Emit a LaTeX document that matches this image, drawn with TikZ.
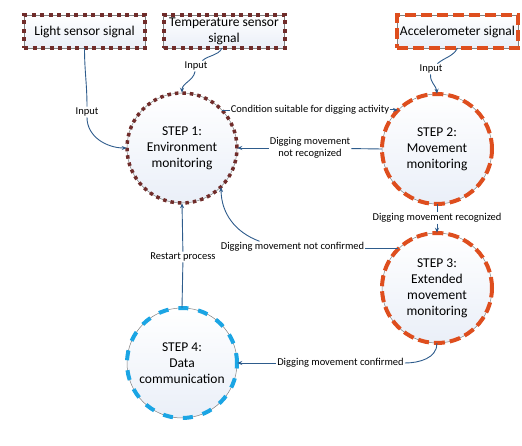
\documentclass[tikz,border=0pt]{standalone}
\usepackage{fontspec}
\setmainfont{Carlito}
\usetikzlibrary{arrows.meta}
\definecolor{dotbrown}{RGB}{112,44,42}
\definecolor{dashorange}{RGB}{222,78,30}
\definecolor{dashcyan}{RGB}{27,165,228}
\definecolor{linkblue}{RGB}{46,92,140}
\definecolor{paleblue}{RGB}{234,239,248}
\begin{document}
\begin{tikzpicture}[x=1pt,y=1pt,
  sensorbox/.style={rectangle,minimum width=121pt,minimum height=33pt,inner sep=1pt,align=center,
    font=\fontsize{13.5}{15.5}\selectfont,draw=gray,line width=0.5pt,top color=white,bottom color=paleblue},
  stepcircle/.style={circle,minimum size=110pt,inner sep=0pt,align=center,
    font=\fontsize{13.5}{16}\selectfont,draw=gray,line width=0.5pt,top color=white,bottom color=paleblue},
  browndots/.style={postaction={draw=dotbrown,line width=4pt,dash pattern=on 4pt off 4.5pt}},
  smalldots/.style={postaction={draw=dotbrown,line width=3.5pt,dash pattern=on 3.5pt off 4pt}},
  orangedash/.style={postaction={draw=dashorange,line width=4pt,dash pattern=on 11pt off 5pt}},
  cyandash/.style={postaction={draw=dashcyan,line width=4pt,dash pattern=on 10pt off 10pt}},
  lbl/.style={fill=white,inner sep=1pt,align=center,font=\fontsize{10.5}{12}\selectfont},
  link/.style={draw=linkblue,line width=0.9pt},
  arr/.style={link,-{Stealth[length=5pt,width=4pt]}}]
\useasboundingbox (0,0) rectangle (522,446);

\node[sensorbox,browndots] (light) at (84.5,414.5) {Light sensor signal};
\node[sensorbox,browndots] (temp) at (224,414.5) {Temperature sensor\\signal};
\node[sensorbox,orangedash] (accel) at (457.5,414.5) {Accelerometer signal};

\node[stepcircle,smalldots] (step1) at (182,298) {STEP 1:\\Environment\\monitoring};
\node[stepcircle,orangedash] (step2) at (437,297) {STEP 2:\\Movement\\monitoring};
\node[stepcircle,orangedash] (step3) at (437,158) {STEP 3:\\Extended\\movement\\monitoring};
\node[stepcircle,cyandash] (step4) at (182,83) {STEP 4:\\Data\\communication};

\node[lbl] (inlight) at (87,334) {Input};
\node[lbl] (intemp) at (196,380) {Input};
\node[lbl] (inaccel) at (431,377) {Input};
\node[lbl] (cond) at (310,336) {Condition suitable for digging activity};
\node[lbl] (notrec) at (310,298) {Digging movement\\not recognized};
\node[lbl] (rec) at (437,228) {Digging movement recognized};
\node[lbl] (notconf) at (292.5,199) {Digging movement not confirmed};
\node[lbl] (conf) at (340.5,83) {Digging movement confirmed};
\node[lbl] (restart) at (183,189) {Restart process};

\draw[link] (light.south) to[out=-90,in=90] (inlight);
\draw[arr] (inlight) to[out=-90,in=180] (step1.west);
\draw[link] ([xshift=-2pt]temp.south) to[out=-120,in=40] (intemp);
\draw[arr] (intemp) to[out=-100,in=90] (step1.north);
\draw[link] (accel.south) to[out=-120,in=40] (inaccel);
\draw[arr] (inaccel) to[out=-95,in=95] (step2.north);

\draw[link] (step1.43) -- (step1.43 -| cond.west);
\draw[arr] (cond.east |- step2.135) -- (step2.135);
\draw[link] (step2.west) -- (notrec);
\draw[arr] (notrec) -- (step1.east);
\draw[link] (step2.south) -- (rec);
\draw[arr] (rec) -- (step3.north);
\draw[link] (step3.135) -- (step3.135 -| notconf.east);
\draw[arr] ([xshift=-33pt]notconf.north) to[out=160,in=-90] (step1.-45);
\draw[link] (step3.south) to[out=-90,in=0] (conf.east);
\draw[arr] (conf) -- (step4.east);
\draw[link] (step4.north) -- (restart);
\draw[arr] (restart) -- (step1.south);
\end{tikzpicture}
\end{document}
